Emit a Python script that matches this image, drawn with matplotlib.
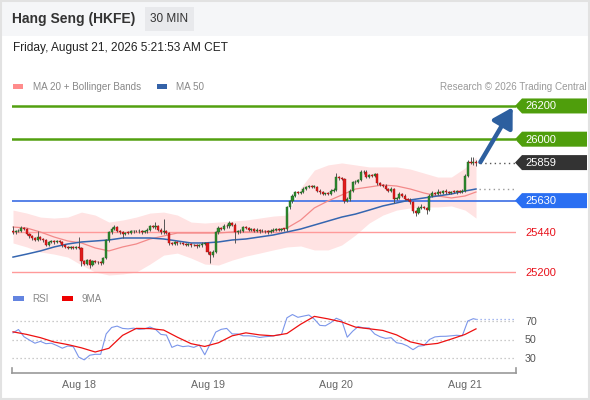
import matplotlib
matplotlib.use("Agg")
import matplotlib.pyplot as plt
import numpy as np
from matplotlib.patches import Rectangle, Polygon

plt.rcParams['font.family'] = ['Liberation Sans', 'DejaVu Sans']

title = "Hang Seng (HKFE)"
interval = "30 MIN"
timestamp = "Friday, August 21, 2026 5:21:53 AM CET"
credit = "Research \u00a9 2026 Trading Central"
legend_main = ["MA 20 + Bollinger Bands", "MA 50"]
legend_rsi = ["RSI", "9MA"]

closes = [25440, 25445, 25450, 25465, 25460, 25430, 25415, 25405, 25395, 25410,
          25400, 25390, 25365, 25380, 25385, 25378, 25385, 25380, 25360, 25350,
          25345, 25350, 25345, 25350, 25345, 25265, 25250, 25270, 25245, 25265,
          25260, 25258, 25255, 25285, 25390, 25440, 25460, 25470, 25450, 25440,
          25430, 25438, 25435, 25445, 25448, 25445, 25450, 25440, 25445, 25455,
          25475, 25470, 25480, 25455, 25440, 25445, 25435, 25375, 25370, 25378,
          25372, 25375, 25370, 25365, 25368, 25360, 25362, 25355, 25360, 25370,
          25372, 25320, 25300, 25320, 25440, 25465, 25460, 25480, 25475, 25495,
          25485, 25440, 25445, 25450, 25470, 25465, 25455, 25460, 25450, 25455,
          25445, 25450, 25445, 25440, 25450, 25455, 25458, 25455, 25460, 25458,
          25590, 25625, 25660, 25680, 25675, 25682, 25700, 25710, 25718, 25712,
          25715, 25690, 25680, 25670, 25672, 25670, 25690, 25695, 25770, 25765,
          25760, 25630, 25640, 25690, 25740, 25745, 25755, 25800, 25805, 25775,
          25785, 25780, 25790, 25735, 25725, 25720, 25700, 25690, 25700, 25640,
          25645, 25670, 25660, 25640, 25635, 25620, 25565, 25555, 25585, 25590,
          25585, 25575, 25660, 25675, 25670, 25680, 25678, 25685, 25680, 25675,
          25682, 25680, 25685, 25682, 25690, 25780, 25860, 25858, 25865, 25859]

opens = [25448, 25440, 25445, 25450, 25465, 25460, 25430, 25415, 25405, 25395,
         25410, 25400, 25390, 25365, 25380, 25385, 25378, 25385, 25380, 25360,
         25350, 25345, 25350, 25345, 25350, 25345, 25265, 25250, 25270, 25245,
         25265, 25260, 25258, 25255, 25285, 25390, 25440, 25460, 25470, 25450,
         25440, 25430, 25438, 25435, 25445, 25448, 25445, 25450, 25440, 25445,
         25455, 25475, 25470, 25480, 25455, 25440, 25445, 25435, 25375, 25370,
         25378, 25372, 25375, 25370, 25365, 25368, 25360, 25362, 25355, 25360,
         25370, 25372, 25320, 25300, 25320, 25440, 25465, 25460, 25480, 25475,
         25495, 25485, 25440, 25445, 25450, 25470, 25465, 25455, 25460, 25450,
         25455, 25445, 25450, 25445, 25440, 25450, 25455, 25458, 25455, 25460,
         25458, 25590, 25625, 25660, 25680, 25675, 25682, 25700, 25710, 25718,
         25712, 25715, 25690, 25680, 25670, 25672, 25670, 25690, 25695, 25770,
         25765, 25760, 25630, 25640, 25690, 25740, 25745, 25755, 25800, 25805,
         25775, 25785, 25780, 25790, 25735, 25725, 25720, 25700, 25690, 25700,
         25640, 25645, 25670, 25660, 25640, 25635, 25620, 25565, 25555, 25585,
         25590, 25585, 25575, 25660, 25675, 25670, 25680, 25678, 25685, 25680,
         25675, 25682, 25680, 25685, 25682, 25690, 25780, 25860, 25858, 25865]

wick_up = [30, 8, 8, 10, 8, 6, 8, 6, 8, 40,
           8, 6, 8, 8, 8, 8, 8, 6, 6, 8,
           8, 6, 8, 6, 60, 6, 8, 10, 8, 8,
           8, 6, 8, 8, 8, 10, 12, 12, 8, 6,
           8, 6, 8, 8, 6, 8, 8, 6, 8, 8,
           10, 8, 20, 6, 8, 75, 8, 8, 6, 8,
           6, 8, 6, 6, 8, 6, 6, 6, 8, 8,
           6, 8, 8, 10, 8, 12, 8, 10, 8, 10,
           8, 8, 8, 10, 8, 8, 6, 8, 6, 8,
           6, 8, 6, 6, 8, 8, 6, 6, 8, 6,
           8, 10, 8, 10, 8, 8, 12, 10, 8, 6,
           8, 6, 8, 8, 6, 8, 8, 10, 25, 10,
           8, 8, 10, 8, 10, 8, 8, 12, 10, 8,
           8, 8, 8, 6, 8, 6, 8, 8, 10, 8,
           8, 10, 6, 8, 6, 8, 6, 8, 12, 20,
           8, 8, 10, 12, 8, 20, 8, 10, 12, 8,
           8, 12, 8, 8, 8, 10, 12, 35, 30, 10]

wick_dn = [10, 8, 6, 6, 8, 8, 8, 10, 8, 8,
           8, 10, 8, 8, 6, 8, 6, 8, 8, 8,
           6, 8, 6, 8, 8, 30, 10, 10, 20, 8,
           8, 8, 10, 8, 8, 8, 8, 6, 8, 10,
           25, 8, 8, 6, 8, 6, 8, 8, 6, 8,
           8, 6, 8, 10, 8, 8, 8, 10, 8, 6,
           8, 6, 8, 8, 6, 8, 6, 8, 6, 8,
           8, 10, 45, 10, 8, 8, 8, 6, 8, 8,
           8, 65, 8, 8, 8, 6, 8, 6, 8, 6,
           8, 6, 8, 8, 6, 6, 8, 6, 6, 8,
           10, 12, 8, 8, 8, 6, 8, 8, 6, 8,
           8, 10, 8, 8, 6, 8, 8, 8, 10, 8,
           8, 15, 10, 10, 8, 8, 8, 8, 8, 10,
           8, 8, 8, 10, 8, 8, 8, 8, 8, 25,
           8, 8, 8, 8, 10, 8, 10, 15, 8, 8,
           8, 25, 8, 8, 6, 8, 6, 8, 8, 8,
           8, 6, 8, 8, 8, 8, 8, 10, 15, 20]

# indicator samples (every 5th bar, plus the last bar)
upper_band = [25573, 25555, 25531, 25525, 25531, 25561, 25543, 25501, 25513, 25531,
              25555, 25561, 25543, 25501, 25495, 25501, 25507, 25513, 25525, 25537,
              25543, 25706, 25814, 25845, 25857, 25845, 25833, 25833, 25833, 25820,
              25796, 25772, 25772, 25827, 25893]
lower_band = [25375, 25351, 25321, 25308, 25290, 25242, 25200, 25182, 25188, 25200,
              25248, 25302, 25314, 25284, 25248, 25242, 25272, 25296, 25314, 25333,
              25351, 25357, 25333, 25333, 25363, 25423, 25495, 25543, 25573, 25586,
              25592, 25592, 25598, 25573, 25525]
ma20 = [25471, 25465, 25441, 25411, 25387, 25375, 25345, 25327, 25351, 25369,
        25399, 25417, 25435, 25435, 25435, 25435, 25441, 25441, 25441, 25447,
        25465, 25513, 25586, 25628, 25664, 25700, 25712, 25724, 25718, 25700,
        25676, 25658, 25646, 25658, 25682]
ma50 = [25290, 25308, 25327, 25351, 25369, 25381, 25387, 25393, 25405, 25405,
        25405, 25399, 25387, 25375, 25375, 25381, 25393, 25399, 25411, 25423,
        25441, 25459, 25483, 25507, 25531, 25549, 25573, 25598, 25616, 25634,
        25646, 25658, 25670, 25688, 25700]
rsi_ma9 = [58.3, 55.5, 52, 47.3, 44.5, 41, 36.5, 40.5, 54.5, 62,
           61.8, 60.2, 52.5, 45.5, 42.5, 46.5, 54, 57.2, 55, 54,
           56.5, 66.5, 75, 72.3, 69, 63.4, 61.6, 59.8, 55, 47.5,
           44.2, 45.8, 50.5, 55.5, 61.5]
# RSI (every 2nd bar, plus the last bar)
rsi = [57.2, 60.8, 53, 49.4, 46, 48, 45.5, 46, 43.5, 40.6,
       43, 42.3, 31, 28, 33, 34, 34, 56, 63, 64.5,
       62, 61.5, 62.3, 61, 61.5, 63.5, 61, 55.5, 54.8, 41.5,
       44, 42.3, 43, 41.5, 44, 33.5, 45.5, 58, 61, 62,
       56, 56, 54, 54, 53.5, 52.2, 53, 53.5, 54.5, 55.5,
       73.5, 77, 74, 75.3, 76.5, 72, 65.3, 64.8, 68.2, 73,
       70.5, 52.5, 59, 64, 62.5, 62.5, 56, 53, 51.2, 52,
       46.5, 45.5, 43, 39, 42.8, 43.5, 50, 52.8, 53.4, 53.5,
       54, 54.6, 54, 70, 72.5, 71.8]

resistance = [26200, 26000]
last_price = 25859
pivot = 25630
support = [25440, 25200]
date_labels = ["Aug 18", "Aug 19", "Aug 20", "Aug 21"]
date_bars = [24, 71, 118, 165]
rsi_levels = [70, 50, 30]

W, H = 590, 400
fig = plt.figure(figsize=(W / 100, H / 100), dpi=100)
fig.patch.set_facecolor('white')

# background / header
bg = fig.add_axes([0, 0, 1, 1])
bg.set_xlim(0, W); bg.set_ylim(H, 0); bg.axis('off')
bg.add_patch(Rectangle((0, 0), W, 36, color='#f5f6f8', lw=0))
bg.add_patch(Rectangle((145, 7), 49, 24, color='#e8e9ec', lw=0))
bg.add_patch(Rectangle((0.75, 0.75), W - 1.5, H - 1.5, fill=False, ec='#e2e2e2', lw=1.5))
bg.text(12, 19.5, title, fontsize=10, fontweight='bold', color='#333333', va='center', ha='left')
bg.text(169.5, 19.5, interval, fontsize=8.5, color='#333333', va='center', ha='center')
bg.text(13, 48, timestamp, fontsize=8.6, color='#222222', va='center', ha='left')
# legends
bg.add_patch(Rectangle((13, 84), 10, 4.5, color='#ff8c8c', lw=0))
bg.text(33, 86.5, legend_main[0], fontsize=7.1, color='#888888', va='center')
bg.add_patch(Rectangle((157, 84), 10, 4.5, color='#3462a8', lw=0))
bg.text(176, 86.5, legend_main[1], fontsize=7.1, color='#888888', va='center')
bg.text(587, 86.5, credit, fontsize=7.1, color='#999999', va='center', ha='right')
bg.add_patch(Rectangle((13, 296), 11, 4.5, color='#6384e0', lw=0))
bg.text(32, 298.5, legend_rsi[0], fontsize=7.1, color='#888888', va='center')
bg.add_patch(Rectangle((62, 296), 11, 4.5, color='#ee0000', lw=0))
bg.text(82, 298.5, legend_rsi[1], fontsize=7.1, color='#888888', va='center')

XL = (-0.365, 183.6)
ax = fig.add_axes([12 / W, 1 - 282 / H, 504 / W, 187 / H])
ax.set_xlim(*XL); ax.set_ylim(25140, 26266); ax.axis('off')

n = len(closes)
idx = np.arange(n)
o = np.array(opens, float); c = np.array(closes, float)
hi = np.maximum(o, c) + np.array(wick_up)
lo = np.minimum(o, c) - np.array(wick_dn)
x5 = np.r_[np.arange(0, n, 5), n - 1]

ax.fill_between(x5, lower_band, upper_band, color='#ffe3e3', lw=0, zorder=1)
for lv in resistance:
    ax.axhline(lv, color='#52a010', lw=1.8, zorder=2)
ax.axhline(pivot, color='#4a78e6', lw=1.3, zorder=2)
for lv in support:
    ax.axhline(lv, color='#ff9a9a', lw=1.0, zorder=2)
ax.plot(x5, ma20, color='#f38a8a', lw=0.9, zorder=3)
ax.plot(x5, ma50, color='#3566b0', lw=1.1, zorder=3)

up = c >= o
ax.vlines(idx, lo, hi, color='#555555', lw=0.7, zorder=4)
ax.bar(idx, np.maximum(np.abs(c - o), 5), bottom=np.minimum(o, c), width=0.78,
       color=np.where(up, '#2e8b2e', '#e01b1b'), edgecolor=np.where(up, '#1d5e1d', '#a51010'),
       lw=0.3, zorder=5)

ax.hlines(last_price, n + 0.4, 183.2, colors='#555555', linestyles=(0, (1, 2.4)), lw=1.0, zorder=3)
ax.hlines(ma50[-1], n + 0.2, 183.2, colors='#999999', linestyles=(0, (1, 2.4)), lw=1.0, zorder=3)
ax.annotate('', xy=(182.4, resistance[0] - 8), xytext=(n + 0.6, last_price + 3),
            arrowprops=dict(arrowstyle='-|>,head_length=0.65,head_width=0.38', color='#2d5f9f',
                            lw=3.2, shrinkA=0, shrinkB=0, mutation_scale=18),
            annotation_clip=False, zorder=6)

# RSI panel
rax = fig.add_axes([12 / W, 1 - 373 / H, 504 / W, 68 / H])
rax.set_xlim(*XL); rax.set_ylim(13.8, 87.3)
rax.patch.set_visible(False)
for s in rax.spines.values():
    s.set_visible(False)
rax.set_yticks([])
rax.set_xticks(date_bars, date_labels)
rax.tick_params(axis='x', length=0, pad=5, labelsize=7.7, labelcolor='#666666')
rax.hlines(rsi_levels, XL[0], 183.2, colors='#bbbbbb', linestyles=(0, (1, 2.2)), lw=0.9)
x2 = np.r_[np.arange(0, n, 2), n - 1]
rax.plot(x2, rsi, color='#7b96ea', lw=0.8, zorder=3)
rax.hlines(rsi[-1], n - 1, 183.2, colors='#8aa2ec', linestyles=(0, (1, 2.2)), lw=0.9)
rax.plot(x5, rsi_ma9, color='#ee1111', lw=0.9, zorder=4)
rax.plot([0, 1], [0, 0], transform=rax.transAxes, color='#999999', lw=1.2, clip_on=False)
for xe in (0, 1):
    rax.plot([xe, xe], [0, 0.08], transform=rax.transAxes, color='#999999', lw=1.2, clip_on=False)

# overlay for price tags and right labels
top = fig.add_axes([0, 0, 1, 1])
top.set_xlim(0, W); top.set_ylim(H, 0); top.axis('off')


def ypix(axes, val):
    return H - axes.transData.transform((0, val))[1]


def tag(price, color, label):
    y = ypix(ax, price)
    h = 7.5
    top.add_patch(Polygon([(515, y), (522, y - h), (587, y - h), (587, y + h), (522, y + h)],
                          closed=True, color=color, lw=0))
    top.text(525.5, y + 0.5, label, fontsize=8, color='white', va='center', ha='left')


for lv in resistance:
    tag(lv, '#4f9e0c', str(lv))
tag(last_price, '#333333', str(last_price))
tag(pivot, '#2a6ff2', str(pivot))
for lv in support:
    top.text(525.5, ypix(ax, lv) + 0.5, str(lv), fontsize=8, color='#e8101a', va='center', ha='left')
for lv in rsi_levels:
    top.text(525, ypix(rax, lv) + 0.5, str(lv), fontsize=7.7, color='#555555', va='center', ha='left')

fig.savefig('out.png', dpi=100)
